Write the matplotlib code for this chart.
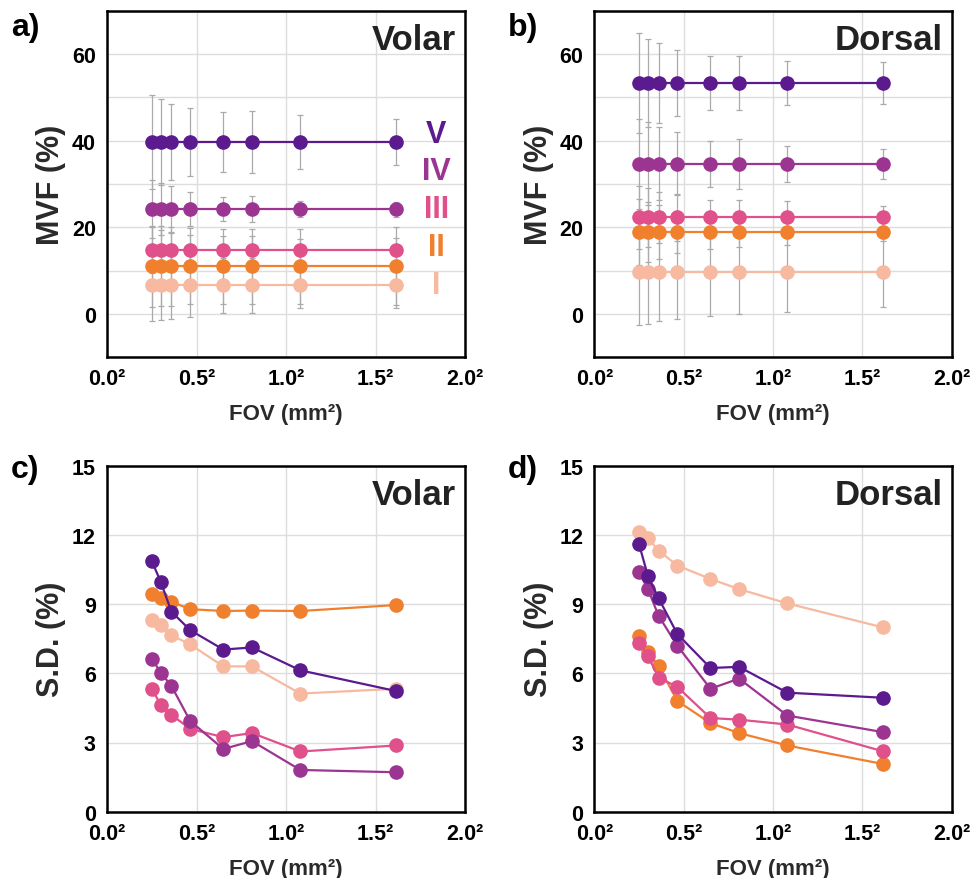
import matplotlib
matplotlib.use("Agg")
import matplotlib.pyplot as plt
import numpy as np

plt.rcParams['font.family'] = ['Liberation Sans', 'DejaVu Sans']
plt.rcParams['font.weight'] = 'bold'

# FOV side length (mm)
fov = [0.25, 0.30, 0.36, 0.465, 0.65, 0.81, 1.08, 1.615]
levels = ['I', 'II', 'III', 'IV', 'V']
colors = ['#f7b9a0', '#f07f2e', '#e0508a', '#9c3592', '#5b1a8e']

# mean MVF (%) per level
volar_mvf = [6.6, 11.0, 14.7, 24.2, 39.7]
dorsal_mvf = [9.6, 18.9, 22.3, 34.7, 53.3]

# S.D. (%) per level, volar
volar_sd = {
    'I':   [8.30, 8.09, 7.65, 7.25, 6.30, 6.30, 5.12, 5.33],
    'II':  [9.42, 9.25, 9.10, 8.78, 8.70, 8.72, 8.70, 8.96],
    'III': [5.33, 4.64, 4.20, 3.59, 3.23, 3.41, 2.61, 2.87],
    'IV':  [6.64, 6.03, 5.45, 3.93, 2.72, 3.06, 1.81, 1.71],
    'V':   [10.87, 9.97, 8.67, 7.87, 7.03, 7.12, 6.13, 5.23],
}
# S.D. (%) per level, dorsal
dorsal_sd = {
    'I':   [12.14, 11.86, 11.32, 10.67, 10.09, 9.65, 9.03, 7.99],
    'II':  [7.61, 6.93, 6.30, 4.80, 3.84, 3.41, 2.87, 2.07],
    'III': [7.32, 6.75, 5.81, 5.41, 4.06, 3.99, 3.78, 2.62],
    'IV':  [10.38, 9.65, 8.49, 7.19, 5.33, 5.77, 4.17, 3.45],
    'V':   [11.61, 10.22, 9.25, 7.70, 6.23, 6.28, 5.16, 4.94],
}

# level label positions in panel a
label_y = [6.8, 15.5, 24.3, 32.9, 41.6]
label_x = 1.84

xticks = [0.0, 0.5, 1.0, 1.5, 2.0]
xticklabels = ['0.0²', '0.5²', '1.0²', '1.5²', '2.0²']

fig = plt.figure(figsize=(9.74, 8.79), dpi=100)

W, H = 974.0, 879.0
# axes boxes in pixels: left, top, right, bottom
boxes = {
    'a': (107, 11.7, 465, 358.3),
    'b': (594.3, 11.7, 951.7, 358.3),
    'c': (107, 466.7, 465, 812.7),
    'd': (594.3, 466.7, 951.7, 812.7),
}
# panel letter positions in pixels
letter_pos = {'a': (11, 28), 'b': (508, 28), 'c': (11, 470), 'd': (508, 470)}


def make_ax(key):
    l, t, r, b = boxes[key]
    ax = fig.add_axes([l / W, 1 - b / H, (r - l) / W, (b - t) / H])
    ax.set_xlim(0, 2)
    ax.set_xticks(xticks)
    ax.set_xticklabels(xticklabels)
    ax.grid(True, color='#dddddd', linewidth=1.0, zorder=0)
    ax.set_axisbelow(True)
    ax.tick_params(length=0, labelsize=15.5, pad=8)
    for s in ax.spines.values():
        s.set_linewidth(1.8)
        s.set_color('black')
    ax.set_xlabel('FOV (mm²)', fontsize=16, fontweight='bold', color='#2a2a2a', labelpad=10)
    px, py = letter_pos[key]
    fig.text(px / W, 1 - py / H, key + ')', fontsize=23, fontweight='bold',
             va='center', ha='left')
    return ax


def mvf_panel(key, mvf, sd, title):
    ax = make_ax(key)
    for i, lev in enumerate(levels):
        m = np.full(len(fov), mvf[i])
        ax.errorbar(fov, m, yerr=sd[lev], fmt='none', ecolor='#aaaaaa',
                    elinewidth=0.9, capsize=2.5, capthick=0.9, zorder=2)
    for i, lev in enumerate(levels):
        ax.plot(fov, np.full(len(fov), mvf[i]), '-o', color=colors[i],
                lw=1.6, ms=9.5, zorder=3 + i)
    ax.set_ylim(-10, 70)
    ax.set_yticks(np.arange(-10, 71, 10))
    ax.set_yticklabels(['' if v % 20 else str(v) for v in range(-10, 71, 10)])
    ax.set_ylabel('MVF (%)', fontsize=22, fontweight='bold', color='#2a2a2a', labelpad=4)
    ax.text(0.975, 0.965, title, transform=ax.transAxes, ha='right', va='top',
            fontsize=25, fontweight='bold', color='#222222')
    return ax


def sd_panel(key, sd, title):
    ax = make_ax(key)
    for i, lev in enumerate(levels):
        ax.plot(fov, sd[lev], '-o', color=colors[i], lw=1.6, ms=9.5, zorder=3 + i)
    ax.set_ylim(0, 15)
    ax.set_yticks(np.arange(0, 16, 3))
    ax.set_ylabel('S.D. (%)', fontsize=22, fontweight='bold', color='#2a2a2a', labelpad=4)
    ax.text(0.975, 0.965, title, transform=ax.transAxes, ha='right', va='top',
            fontsize=25, fontweight='bold', color='#222222')
    return ax


ax_a = mvf_panel('a', volar_mvf, volar_sd, 'Volar')
for i, lev in enumerate(levels):
    ax_a.text(label_x, label_y[i], lev, color=colors[i], fontsize=22,
              fontweight='bold', ha='center', va='center', zorder=10)
mvf_panel('b', dorsal_mvf, dorsal_sd, 'Dorsal')
sd_panel('c', volar_sd, 'Volar')
sd_panel('d', dorsal_sd, 'Dorsal')

fig.savefig('out.png', dpi=100)
